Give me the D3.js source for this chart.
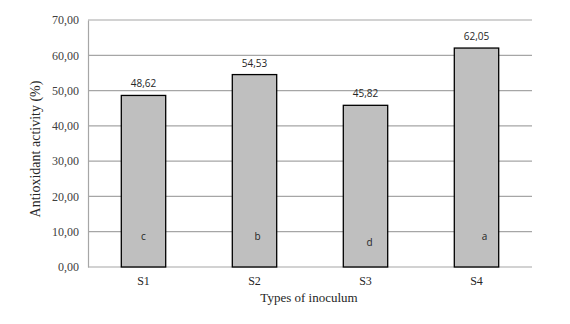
<!DOCTYPE html>
<html lang="en">
<head>
  <meta charset="UTF-8">
  <script src="https://d3js.org/d3.v7.min.js"></script>
  <title>Antioxidant activity</title>
  <style>
    body { margin: 0; background: #fff; }
  </style>
</head>
<body>
  <svg width="570" height="324"></svg>
  <script>
    // data
    var categories = ["S1", "S2", "S3", "S4"];
    var values = [48.62, 54.53, 45.82, 62.05];
    var letters = ["c", "b", "d", "a"];
    var yTicks = [0, 10, 20, 30, 40, 50, 60, 70];

    var margin = {top: 20, right: 38, bottom: 57, left: 88};
    var svg = d3.select("svg");
    var width = +svg.attr("width") - margin.left - margin.right;
    var height = +svg.attr("height") - margin.top - margin.bottom;
    var g = svg.append("g").attr("transform", "translate(" + margin.left + "," + margin.top + ")");

    var fmt = function(v) { return d3.format(".2f")(v).replace(".", ","); };

    var x = d3.scaleBand().domain(categories).range([0, width]).paddingInner(0.6).paddingOuter(0.3);
    var y = d3.scaleLinear().domain([0, 70]).range([height, 0]);

    // grid lines
    g.append("g").selectAll("line").data(yTicks).enter().append("line")
      .attr("x1", 0).attr("x2", width)
      .attr("y1", function(d){ return y(d); }).attr("y2", function(d){ return y(d); })
      .attr("stroke", "#a6a6a6").attr("stroke-width", 1.2);

    // y axis
    var yAxis = g.append("g")
      .call(d3.axisLeft(y).tickValues(yTicks).tickFormat(fmt).tickSize(0).tickPadding(9));
    yAxis.select(".domain").attr("stroke", "#a6a6a6").attr("stroke-width", 1.2);
    yAxis.selectAll("text").attr("font-family", "Liberation Serif, serif").attr("font-size", 12).attr("fill", "#404040");

    // x axis
    var xAxis = g.append("g").attr("transform", "translate(0," + height + ")")
      .call(d3.axisBottom(x).tickSize(0).tickPadding(9));
    xAxis.select(".domain").remove();
    xAxis.selectAll("text").attr("font-family", "Liberation Serif, serif").attr("font-size", 12).attr("fill", "#262626");

    // bars
    g.selectAll(".bar").data(values).enter().append("rect")
      .attr("x", function(d, i){ return x(categories[i]); })
      .attr("y", function(d){ return y(d); })
      .attr("width", x.bandwidth())
      .attr("height", function(d){ return height - y(d); })
      .attr("fill", "#bfbfbf").attr("stroke", "#000").attr("stroke-width", 1.3);

    // value labels
    g.selectAll(".val").data(values).enter().append("text")
      .attr("x", function(d, i){ return x(categories[i]) + x.bandwidth() / 2; })
      .attr("y", function(d){ return y(d) - 8; })
      .attr("text-anchor", "middle")
      .attr("font-family", "Open Sans, sans-serif").attr("font-size", 10).attr("fill", "#262626")
      .text(fmt);

    // significance letters
    var letterDx = [0, 3, 4, 8];
    var letterDy = [0, 0, 6, 0];
    g.selectAll(".let").data(letters).enter().append("text")
      .attr("x", function(d, i){ return x(categories[i]) + x.bandwidth() / 2 + letterDx[i]; })
      .attr("y", function(d, i){ return y(0) - 27 + letterDy[i]; })
      .attr("text-anchor", "middle")
      .attr("font-family", "Open Sans, sans-serif").attr("font-size", 10).attr("fill", "#262626")
      .text(function(d){ return d; });

    // axis titles
    svg.append("text")
      .attr("x", margin.left + width / 2 - 1).attr("y", 302)
      .attr("text-anchor", "middle")
      .attr("font-family", "Liberation Serif, serif").attr("font-size", 13).attr("fill", "#262626")
      .text("Types of inoculum");

    svg.append("text")
      .attr("transform", "translate(40,149) rotate(-90)")
      .attr("text-anchor", "middle")
      .attr("font-family", "Liberation Serif, serif").attr("font-size", 14).attr("fill", "#262626")
      .text("Antioxidant activity (%)");
  </script>
</body>
</html>
